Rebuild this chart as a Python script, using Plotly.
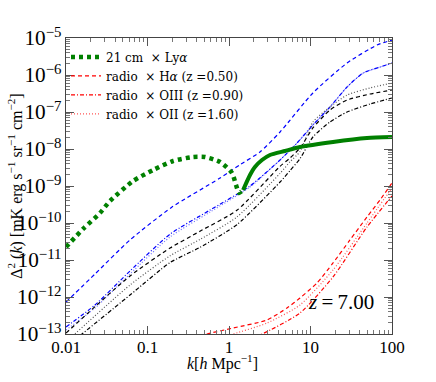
import plotly.graph_objects as go

# wavenumbers k [h/Mpc] and cross power spectra Delta^2(k)
k_lya_dot = [0.01, 0.0162, 0.0261, 0.0347, 0.0664, 0.117, 0.206, 0.361, 0.508, 0.777, 1.09, 1.22, 1.33, 1.49]
d_lya_dot = [2.24e-11, 6.9e-11, 1.86e-10, 3.94e-10, 1.36e-9, 2.70e-9, 4.74e-9, 6.08e-9, 6.08e-9, 4.46e-9, 2.24e-9, 1.06e-9, 6.5e-10, 7.8e-10]
k_lya_sol = [1.49, 1.81, 2.08, 2.54, 3.18, 4.86, 7.43, 18.9, 49.3, 100]
d_lya_sol = [7.8e-10, 1.98e-9, 3.27e-9, 5.05e-9, 6.89e-9, 8.83e-9, 1.13e-8, 1.55e-8, 1.98e-8, 2.11e-8]

k_blue_dash = [0.01, 0.0227, 0.0610, 0.200, 0.777, 1.40, 2.40, 4.23, 10.7, 28.1, 65.5, 100]
d_blue_dash = [7.3e-13, 4.19e-12, 3.48e-11, 2.70e-10, 1.64e-9, 3.9e-9, 8.3e-9, 2.88e-8, 3.27e-7, 2.11e-6, 6.47e-6, 8.8e-6]
k_blue_dot = [0.01, 0.0227, 0.0610, 0.189, 0.585, 1.81, 4.23, 6.83, 10.7, 17.3, 28.1, 44.1, 71.3, 100]
d_blue_dot = [1.28e-13, 5.05e-13, 4.19e-12, 4.2e-11, 1.98e-10, 9.4e-10, 5.05e-9, 1.45e-8, 4.46e-8, 1.36e-7, 4.74e-7, 1.13e-6, 1.64e-6, 2.11e-6]
d_blue_dashdot = [1.55e-13, 6.08e-13, 5.05e-12, 5.0e-11, 2.24e-10, 1.0e-9, 5.05e-9, 1.45e-8, 4.46e-8, 1.36e-7, 4.74e-7, 1.13e-6, 1.64e-6, 2.11e-6]

k_black = [0.01, 0.0610, 0.189, 0.441, 1.25, 4.23, 5.60, 7.43, 10.7, 17.3, 28.1, 53.7, 100]
d_black_dash = [1.06e-13, 3.70e-12, 2.1e-11, 6.0e-11, 2.2e-10, 3.4e-9, 5.71e-9, 1.06e-8, 3.70e-8, 1.13e-7, 2.11e-7, 3.06e-7, 3.94e-7]
d_black_dot = [6.08e-14, 2.11e-12, 1.3e-11, 3.6e-11, 1.45e-10, 2.2e-9, 4.5e-9, 8.5e-9, 5.37e-8, 1.36e-7, 2.88e-7, 4.46e-7, 6.08e-7]
d_black_dashdot = [4.46e-14, 1.13e-12, 8.5e-12, 2.2e-11, 9.0e-11, 1.28e-9, 2.6e-9, 5.5e-9, 2.11e-8, 5.37e-8, 1.0e-7, 1.64e-7, 2.39e-7]

k_red_dash = [0.251, 0.537, 1.12, 2.93, 5.15, 7.43, 12.0, 18.9, 30.5, 49.3, 71.3, 100]
d_red_dash = [5.71e-14, 1.0e-13, 1.45e-13, 2.39e-13, 5.05e-13, 9.4e-13, 2.39e-12, 8.3e-12, 3.48e-11, 1.45e-10, 4.19e-10, 1.21e-9]
k_red_dot = [0.508, 1.03, 2.93, 7.43, 18.9, 49.3, 100]
d_red_dot = [5.71e-14, 9.4e-14, 1.98e-13, 6.08e-13, 5.37e-12, 1.0e-10, 8.83e-10]
k_red_dashdot = [1.03, 2.40, 7.43, 18.9, 49.3, 100]
d_red_dashdot = [5.05e-14, 9.4e-14, 3.70e-13, 3.48e-12, 7.8e-11, 5.37e-10]

FONT = "Liberation Serif"
LEG_FONT = "DejaVu Serif"

fig = go.Figure()


def add_line(k, d, color, dash, width=1.2, name=None, show=False):
    fig.add_trace(go.Scatter(
        x=k, y=d, mode="lines", name=name, showlegend=show,
        line=dict(color=color, dash=dash, width=width, shape="spline", smoothing=0.6),
        hoverinfo="skip"
    ))


# background curves (no legend)
add_line(k_blue_dash, d_blue_dash, "#0000ff", "4px,3px")
add_line(k_blue_dot, d_blue_dot, "#6f6fff", "1px,2px")
add_line(k_blue_dot, d_blue_dashdot, "#0000ff", "4px,2px,1px,2px")
add_line(k_black, d_black_dash, "#000000", "4px,3px")
add_line(k_black, d_black_dot, "#555555", "1px,2px")
add_line(k_black, d_black_dashdot, "#000000", "4px,2px,1px,2px")

# legend curves
add_line(k_lya_dot, d_lya_dot, "#008000", "4px,4px", width=4.5, name="21 cm  \u00d7 Ly<i>\u03b1</i>", show=True)
add_line(k_lya_sol, d_lya_sol, "#008000", "solid", width=4)
add_line(k_red_dash, d_red_dash, "#ff0000", "4px,3px", name="radio  \u00d7 H<i>\u03b1</i> (z =0.50)", show=True)
add_line(k_red_dashdot, d_red_dashdot, "#ff0000", "4px,2px,1px,2px", name="radio  \u00d7 OIII (z =0.90)", show=True)
add_line(k_red_dot, d_red_dot, "#ff5555", "1px,2px", name="radio  \u00d7 OII (z =1.60)", show=True)

axis_common = dict(
    type="log", showgrid=False, zeroline=False, automargin=False,
    showline=True, linecolor="#444444", linewidth=1.2, mirror="allticks",
    ticks="inside", ticklen=8, tickcolor="#555555", tickwidth=1,
    dtick=1,
    minor=dict(ticks="inside", ticklen=4, tickcolor="#777777", showgrid=False),
    tickfont=dict(family=FONT, size=17, color="black"),
)

fig.update_xaxes(range=[-2, 2], ticklabelstandoff=-3, **axis_common)
fig.update_yaxes(range=[-13, -5], exponentformat="power", showexponent="all", **axis_common)

# axis titles placed as annotations (automargin is off)
fig.add_annotation(
    x=0.48, y=-0.095, xref="paper", yref="paper", showarrow=False,
    xanchor="center", yanchor="middle",
    text="<i>k</i>[<i>h</i> Mpc<sup>\u22121</sup>]", font=dict(family=FONT, size=16, color="black")
)
fig.add_annotation(
    x=-0.157, y=0.5, xref="paper", yref="paper", showarrow=False,
    xanchor="center", yanchor="middle", textangle=-90,
    text="\u0394<sup>2</sup> (<i>k</i>) [mK erg s<sup>\u22121</sup> sr<sup>\u22121</sup> cm<sup>\u22122</sup>]",
    font=dict(family=FONT, size=16, color="black")
)

fig.add_annotation(
    x=0.845, y=0.108, xref="paper", yref="paper", showarrow=False,
    xanchor="center", yanchor="middle",
    text="<i>z</i>\u2009=\u20097.00", font=dict(family=FONT, size=21, color="black")
)

fig.update_layout(
    width=436, height=382,
    margin=dict(l=66, r=44, t=38, b=48),
    plot_bgcolor="white", paper_bgcolor="white",
    font=dict(family=FONT, color="black"),
    legend=dict(x=0.0, y=0.985, xanchor="left", yanchor="top",
                bgcolor="rgba(0,0,0,0)", font=dict(family=LEG_FONT, size=12),
                itemwidth=30, tracegroupgap=0),
)

# drop the browser's default body margin so the figure sits at the page corner
fig.write_html("out.html", config={"displayModeBar": False},
               post_script="document.body.style.margin='0';")
